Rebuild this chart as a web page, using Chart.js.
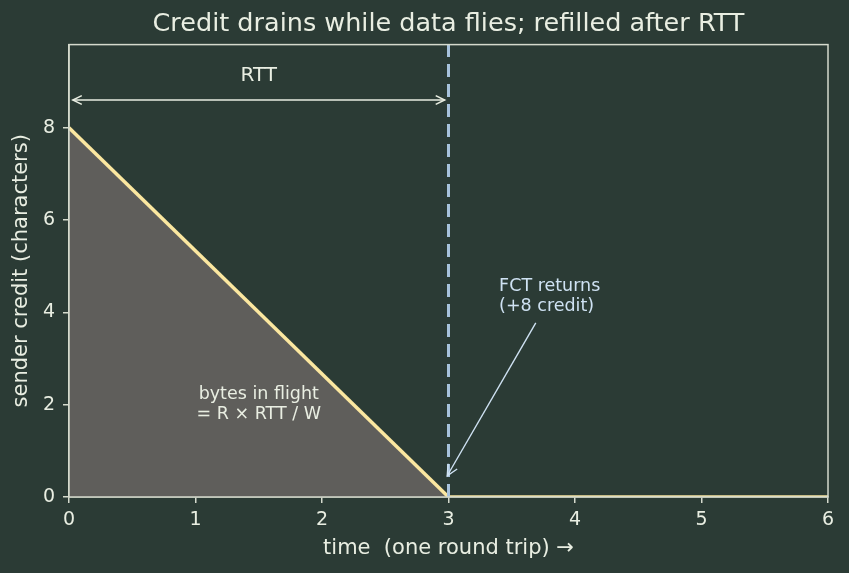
<!DOCTYPE html>
<html>
<head>
<meta charset="utf-8">
<script src="https://cdn.jsdelivr.net/npm/chart.js@4.4.1/dist/chart.umd.min.js"></script>
<style>
  html, body { margin: 0; padding: 0; background: #2b3b35; }
  #wrap { width: 849px; height: 573px; }
</style>
</head>
<body>
<div id="wrap"><canvas id="creditChart" width="849" height="573"></canvas></div>
<script>
// data
const drainTime = [0, 3];
const drainCredit = [8, 0];
const idleTime = [3, 6];
const idleCredit = [0, 0];
const fctTime = 3;
const xTicks = [0, 1, 2, 3, 4, 5, 6];
const yTicks = [0, 2, 4, 6, 8];
const yMax = 9.8;

const ink = "#e9eee2";
const axisInk = "#d5dacd";
const lineYellow = "#fbe7a0";
const dashBlue = "#a7c2dc";
const noteBlue = "#cfe2f3";

const toPoints = (xs, ys) => xs.map((x, i) => ({ x, y: ys[i] }));

// open arrow head like matplotlib "->"
function arrowHead(ctx, fx, fy, tx, ty, size) {
  const a = Math.atan2(ty - fy, tx - fx);
  ctx.beginPath();
  ctx.moveTo(tx - size * Math.cos(a - 0.45), ty - size * Math.sin(a - 0.45));
  ctx.lineTo(tx, ty);
  ctx.lineTo(tx - size * Math.cos(a + 0.45), ty - size * Math.sin(a + 0.45));
  ctx.stroke();
}

const notes = {
  id: "notes",
  afterDatasetsDraw(c) {
    const { ctx, chartArea: a, scales } = c;
    const px = (v) => scales.x.getPixelForValue(v);
    const py = (v) => scales.y.getPixelForValue(v);
    ctx.save();

    // frame around the plot
    ctx.strokeStyle = axisInk;
    ctx.lineWidth = 1.5;
    ctx.strokeRect(a.left, a.top, a.right - a.left, a.bottom - a.top);

    // RTT double arrow
    ctx.strokeStyle = ink;
    ctx.lineWidth = 1.5;
    const x0 = px(0.03), x1 = px(2.97), yA = py(8.6);
    ctx.beginPath();
    ctx.moveTo(x0, yA);
    ctx.lineTo(x1, yA);
    ctx.stroke();
    arrowHead(ctx, x1, yA, x0, yA, 10);
    arrowHead(ctx, x0, yA, x1, yA, 10);

    ctx.fillStyle = ink;
    ctx.font = "20px 'DejaVu Sans'";
    ctx.textAlign = "center";
    ctx.textBaseline = "middle";
    ctx.fillText("RTT", px(1.5), py(9.12));

    // bytes in flight label
    ctx.font = "17.5px 'DejaVu Sans'";
    ctx.fillText("bytes in flight", px(1.5), py(2.22));
    ctx.fillText("= R \u00d7 RTT / W", px(1.5), py(1.78));

    // FCT annotation
    ctx.fillStyle = noteBlue;
    ctx.textAlign = "left";
    ctx.fillText("FCT returns", px(3.4), py(4.56));
    ctx.fillText("(+8 credit)", px(3.4), py(4.12));
    ctx.strokeStyle = noteBlue;
    ctx.lineWidth = 1.4;
    const sx = px(3.69), sy = py(3.77), ex = px(2.99), ey = py(0.46);
    ctx.beginPath();
    ctx.moveTo(sx, sy);
    ctx.lineTo(ex, ey);
    ctx.stroke();
    arrowHead(ctx, sx, sy, ex, ey, 12);
    ctx.restore();
  },
};

const tickFont = { family: "'DejaVu Sans'", size: 19 };
const labelFont = { family: "'DejaVu Sans'", size: 21 };

new Chart(document.getElementById("creditChart"), {
  type: "line",
  data: {
    datasets: [
      {
        label: "credit draining",
        data: toPoints(drainTime, drainCredit),
        borderColor: lineYellow,
        borderWidth: 3.5,
        backgroundColor: "#5f5e5b",
        fill: "origin",
        pointRadius: 0,
        order: 2,
      },
      {
        label: "credit idle",
        data: toPoints(idleTime, idleCredit),
        borderColor: lineYellow,
        borderWidth: 3.5,
        fill: false,
        pointRadius: 0,
        order: 2,
      },
      {
        label: "FCT",
        data: toPoints([fctTime, fctTime], [0, yMax]),
        borderColor: dashBlue,
        borderWidth: 3,
        borderDash: [13, 7],
        fill: false,
        pointRadius: 0,
        order: 1,
      },
    ],
  },
  options: {
    responsive: false,
    animation: false,
    layout: { padding: { left: 0, right: 21, top: 0, bottom: 0 } },
    plugins: {
      legend: { display: false },
      tooltip: { enabled: false },
      title: {
        display: true,
        fullSize: false,
        text: "Credit drains while data flies; refilled after RTT",
        color: ink,
        font: { family: "'DejaVu Sans'", size: 25.5, weight: "normal" },
        padding: { top: 9, bottom: 5 },
      },
    },
    scales: {
      x: {
        type: "linear",
        min: 0,
        max: 6,
        afterBuildTicks: (s) => { s.ticks = xTicks.map((v) => ({ value: v })); },
        afterFit: (s) => { s.height = 76; },
        grid: { display: true, drawOnChartArea: false, color: axisInk, tickLength: 6, lineWidth: 1.5 },
        border: { color: axisInk, width: 1.5 },
        ticks: { color: ink, font: tickFont, padding: 6, maxRotation: 0 },
        title: {
          display: true,
          text: "time  (one round trip) \u2192",
          color: ink,
          font: labelFont,
          padding: { top: 2, bottom: 12 },
        },
      },
      y: {
        type: "linear",
        min: 0,
        max: yMax,
        afterBuildTicks: (s) => { s.ticks = yTicks.map((v) => ({ value: v })); },
        afterFit: (s) => { s.width = 69; },
        grid: { display: true, drawOnChartArea: false, color: axisInk, tickLength: 6, lineWidth: 1.5 },
        border: { color: axisInk, width: 1.5 },
        ticks: { color: ink, font: tickFont, padding: 8 },
        title: {
          display: true,
          text: "sender credit (characters)",
          color: ink,
          font: labelFont,
          padding: { top: 9, bottom: 4 },
        },
      },
    },
  },
  plugins: [notes],
});
</script>
</body>
</html>
